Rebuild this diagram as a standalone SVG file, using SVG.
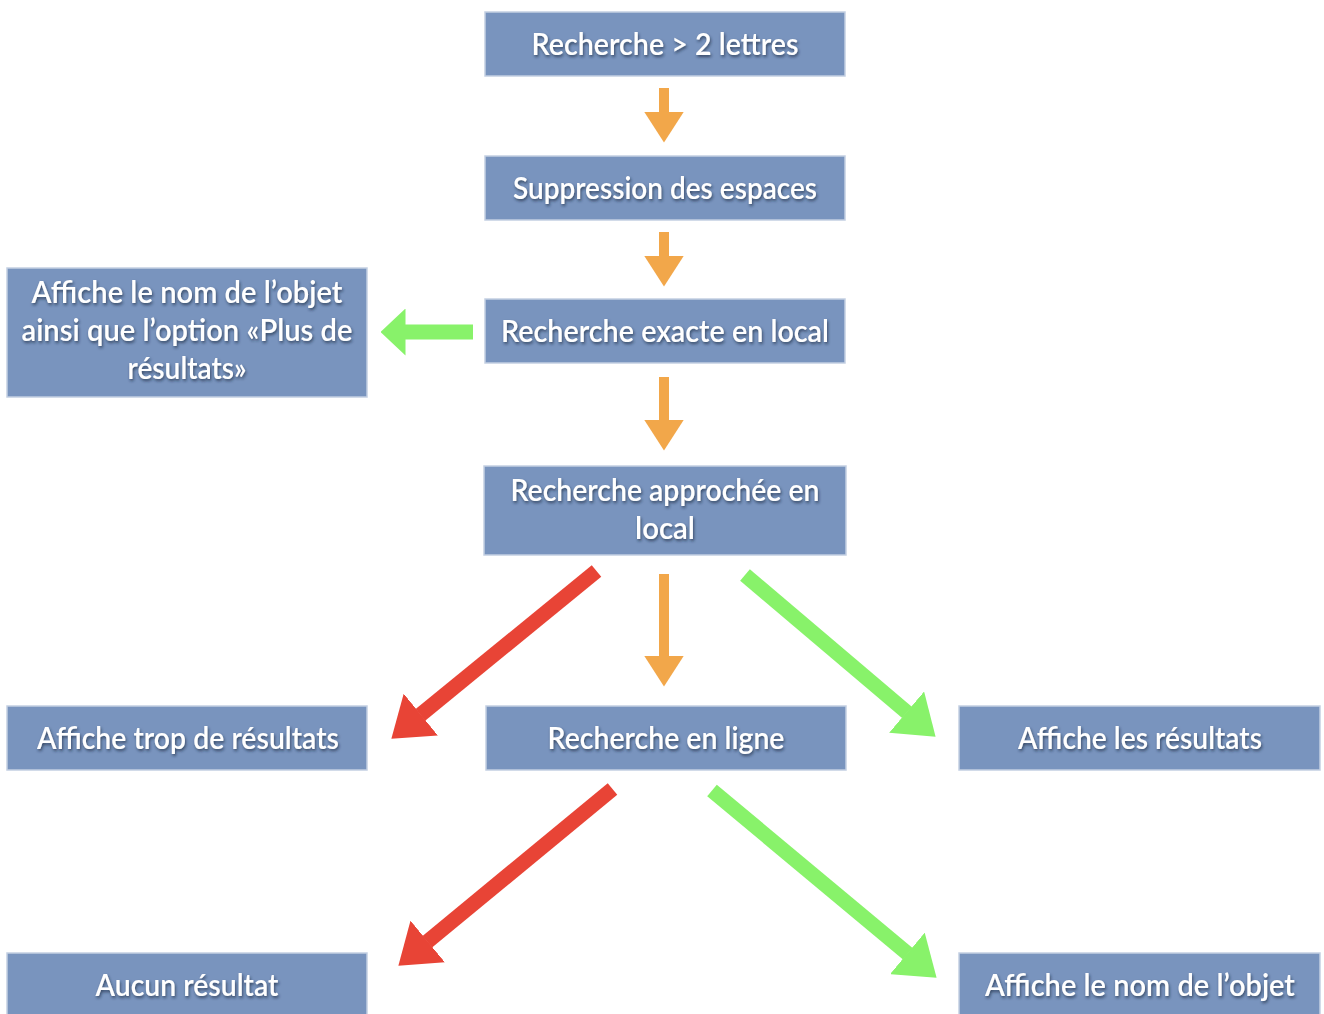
<svg xmlns="http://www.w3.org/2000/svg" width="1324" height="1014" viewBox="0 0 1324 1014">
<defs>
<style>
.box{fill:#7994be;stroke:#c3cfe2;stroke-width:1.5}
.t{font-family:Lato,"Liberation Sans",sans-serif;font-size:30px;font-weight:600;fill:#ffffff;text-anchor:middle;filter:url(#sh)}
.o{stroke:#f2a74a;stroke-width:10;fill:none}
.g{stroke:#88f26a;stroke-width:15;fill:none}
.r{stroke:#e84436;stroke-width:15;fill:none}
</style>
<filter id="sh" x="-10%" y="-30%" width="120%" height="160%">
<feDropShadow dx="1" dy="2" stdDeviation="1.6" flood-color="#1d2a40" flood-opacity="0.7"/>
</filter>
<marker id="mo" markerUnits="userSpaceOnUse" markerWidth="31" markerHeight="40" viewBox="0 0 31 40" refX="0.5" refY="20" orient="auto"><path d="M0,0 L31,20 L0,40 z" fill="#f2a74a"/></marker>
<marker id="mgh" markerUnits="userSpaceOnUse" markerWidth="25" markerHeight="47" viewBox="0 0 25 47" refX="0.5" refY="23.5" orient="auto"><path d="M0,0 L25,23.5 L0,47 z" fill="#88f26a"/></marker>
<marker id="mg" markerUnits="userSpaceOnUse" markerWidth="38" markerHeight="54" viewBox="0 0 38 54" refX="0.5" refY="27" orient="auto"><path d="M0,0 L38,27 L0,54 z" fill="#88f26a"/></marker>
<marker id="mr" markerUnits="userSpaceOnUse" markerWidth="38" markerHeight="54" viewBox="0 0 38 54" refX="0.5" refY="27" orient="auto"><path d="M0,0 L38,27 L0,54 z" fill="#e84436"/></marker>
</defs>
<rect width="1324" height="1014" fill="#ffffff"/>

<g id="n1"><rect class="box" x="485" y="12" width="360" height="64"/><text class="t" x="665" y="55" textLength="267" lengthAdjust="spacingAndGlyphs">Recherche &gt; 2 lettres</text></g>
<g id="n2"><rect class="box" x="485" y="156" width="360" height="64"/><text class="t" x="665" y="199" textLength="304" lengthAdjust="spacingAndGlyphs">Suppression des espaces</text></g>
<g id="n3"><rect class="box" x="485" y="299" width="360" height="64"/><text class="t" x="665" y="342" textLength="328" lengthAdjust="spacingAndGlyphs">Recherche exacte en local</text></g>
<g id="n4"><rect class="box" x="7" y="268" width="360" height="129"/>
<text class="t" x="187" y="303" textLength="311" lengthAdjust="spacingAndGlyphs">Affiche le nom de l’objet</text>
<text class="t" x="187" y="341" textLength="331" lengthAdjust="spacingAndGlyphs">ainsi que l’option «Plus de</text>
<text class="t" x="187" y="379" textLength="119" lengthAdjust="spacingAndGlyphs">résultats»</text></g>
<g id="n5"><rect class="box" x="484" y="466" width="362" height="89"/>
<text class="t" x="665" y="501" textLength="309" lengthAdjust="spacingAndGlyphs">Recherche approchée en</text>
<text class="t" x="665" y="539" textLength="60" lengthAdjust="spacingAndGlyphs">local</text></g>
<g id="n6"><rect class="box" x="7" y="706" width="360" height="64"/><text class="t" x="188" y="749" textLength="302" lengthAdjust="spacingAndGlyphs">Affiche trop de résultats</text></g>
<g id="n7"><rect class="box" x="486" y="706" width="360" height="64"/><text class="t" x="666" y="749" textLength="237" lengthAdjust="spacingAndGlyphs">Recherche en ligne</text></g>
<g id="n8"><rect class="box" x="959" y="706" width="361" height="64"/><text class="t" x="1140" y="749" textLength="244" lengthAdjust="spacingAndGlyphs">Affiche les résultats</text></g>
<g id="n9"><rect class="box" x="7" y="953" width="360" height="70"/><text class="t" x="187" y="996" textLength="183" lengthAdjust="spacingAndGlyphs">Aucun résultat</text></g>
<g id="n10"><rect class="box" x="959" y="953" width="361" height="70"/><text class="t" x="1140" y="996" textLength="310" lengthAdjust="spacingAndGlyphs">Affiche le nom de l’objet</text></g>

<g id="connectors">
<line class="o" x1="664" y1="88" x2="664" y2="112" marker-end="url(#mo)"/>
<line class="o" x1="664" y1="232" x2="664" y2="256" marker-end="url(#mo)"/>
<line class="o" x1="664" y1="377" x2="664" y2="420" marker-end="url(#mo)"/>
<line class="o" x1="664" y1="574" x2="664" y2="656" marker-end="url(#mo)"/>
<line class="g" x1="473" y1="332" x2="405" y2="332" stroke-width="14" marker-end="url(#mgh)"/>
<line class="r" x1="596.5" y1="571" x2="420.4" y2="714.9" marker-end="url(#mr)"/>
<line class="g" x1="745" y1="575" x2="907" y2="712.4" marker-end="url(#mg)"/>
<line class="r" x1="612.5" y1="789" x2="427.3" y2="941.8" marker-end="url(#mr)"/>
<line class="g" x1="712" y1="790.5" x2="907.8" y2="953.7" marker-end="url(#mg)"/>
</g>
</svg>
